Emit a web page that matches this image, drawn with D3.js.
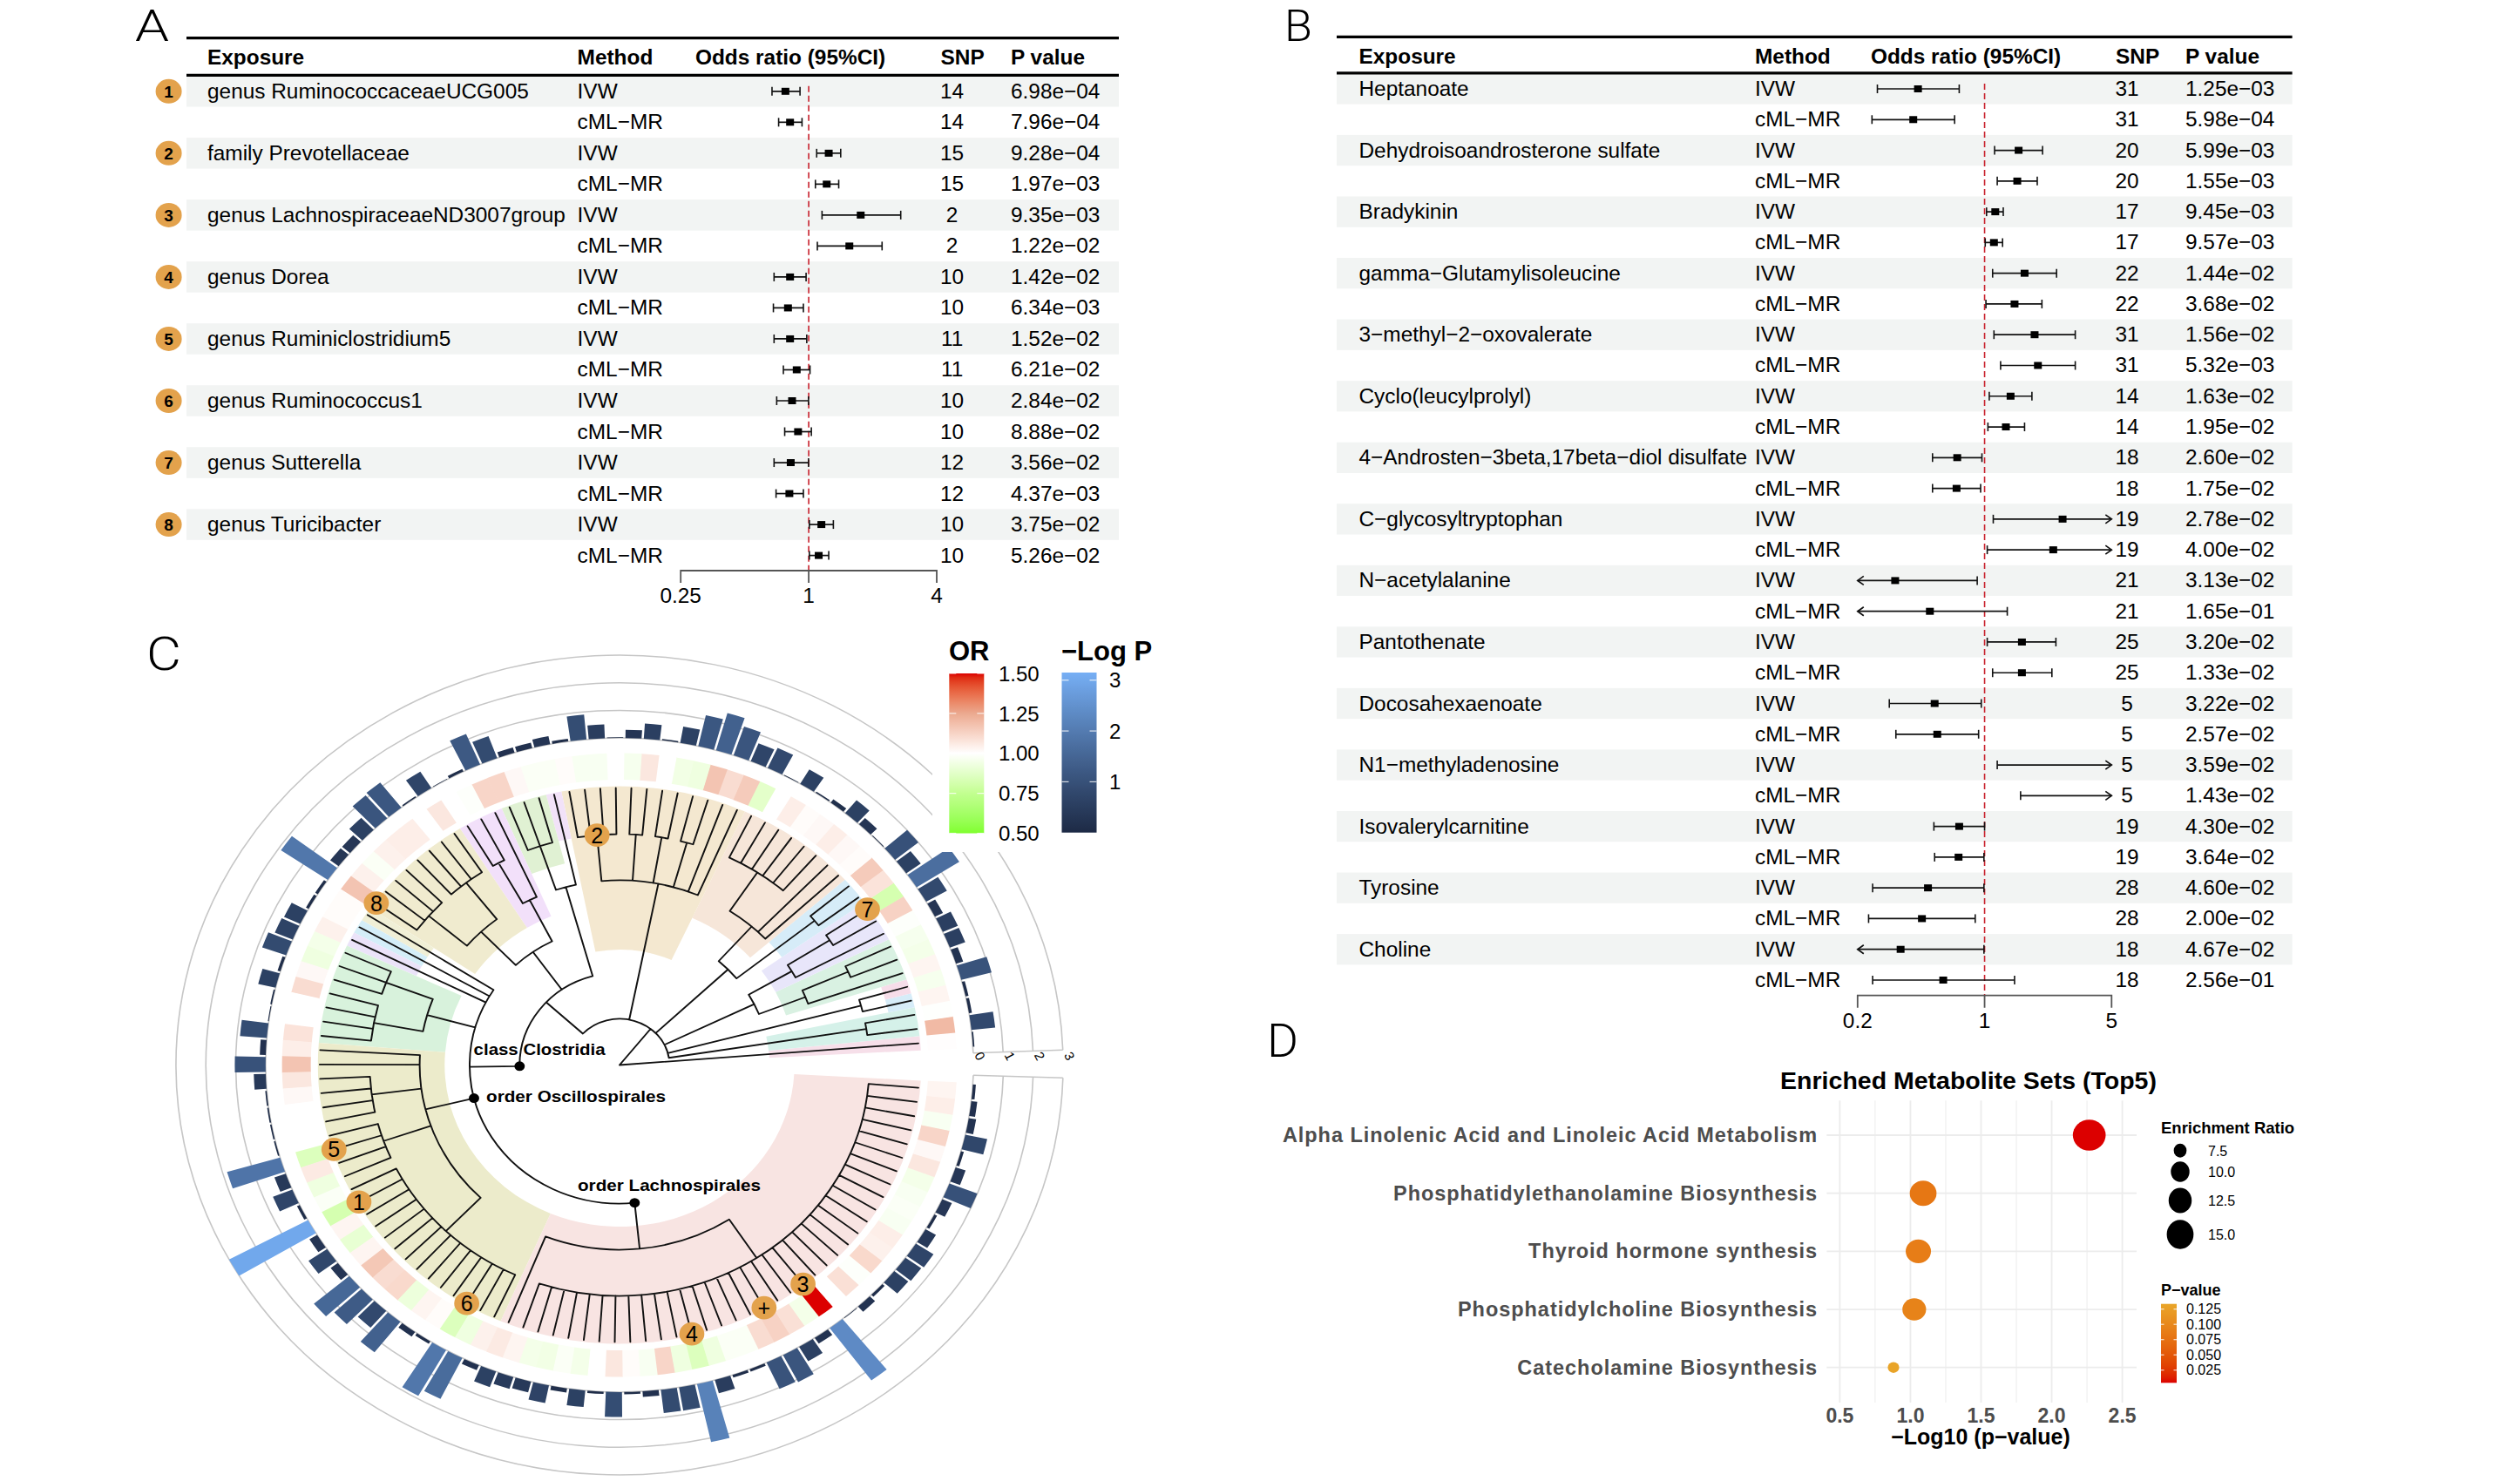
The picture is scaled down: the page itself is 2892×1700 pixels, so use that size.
<!DOCTYPE html>
<html><head><meta charset="utf-8">
<script src="https://cdn.jsdelivr.net/npm/d3@7"></script>
<style>
html,body{margin:0;padding:0;background:#fff}
svg{display:block}
text{font-family:"Liberation Sans",Arial,sans-serif;fill:#000}
</style></head><body>
<div id="chart"></div>
<script>
// ---------- Panel A data ----------
const aExposure = ["genus RuminococcaceaeUCG005","family Prevotellaceae","genus LachnospiraceaeND3007group","genus Dorea","genus Ruminiclostridium5","genus Ruminococcus1","genus Sutterella","genus Turicibacter"];
const aSnp = [14,14,15,15,2,2,10,10,11,11,10,10,12,12,10,10];
const aP = ["6.98e−04","7.96e−04","9.28e−04","1.97e−03","9.35e−03","1.22e−02","1.42e−02","6.34e−03","1.52e−02","6.21e−02","2.84e−02","8.88e−02","3.56e−02","4.37e−03","3.75e−02","5.26e−02"];
const aLow = [.672,.722,1.09,1.075,1.155,1.098,.687,.682,.687,.760,.707,.771,.687,.702,1.007,1.007];
const aMid = [.777,.817,1.242,1.215,1.756,1.553,.817,.799,.817,.878,.835,.891,.823,.811,1.147,1.114];
const aHigh = [.910,.930,1.414,1.384,2.709,2.213,.972,.944,.979,1.014,.998,1.029,.998,.944,1.306,1.242];
const aTicks = [0.25,1,4];
// ---------- Panel B data ----------
const bExposure = ["Heptanoate","Dehydroisoandrosterone sulfate","Bradykinin","gamma−Glutamylisoleucine","3−methyl−2−oxovalerate","Cyclo(leucylprolyl)","4−Androsten−3beta,17beta−diol disulfate","C−glycosyltryptophan","N−acetylalanine","Pantothenate","Docosahexaenoate","N1−methyladenosine","Isovalerylcarnitine","Tyrosine","Choline"];
const bSnp = [31,31,20,20,17,17,22,22,31,31,14,14,18,18,19,19,21,21,25,25,5,5,5,5,19,19,28,28,18,18];
const bP = ["1.25e−03","5.98e−04","5.99e−03","1.55e−03","9.45e−03","9.57e−03","1.44e−02","3.68e−02","1.56e−02","5.32e−03","1.63e−02","1.95e−02","2.60e−02","1.75e−02","2.78e−02","4.00e−02","3.13e−02","1.65e−01","3.20e−02","1.33e−02","3.22e−02","2.57e−02","3.59e−02","1.43e−02","4.30e−02","3.64e−02","4.60e−02","2.00e−02","4.67e−02","2.56e−01"];
const bLow = [.257,.240,1.135,1.174,1.025,1.008,1.107,1.017,1.126,1.225,1.061,1.043,.517,.517,1.116,1.034,.12,.1,1.034,1.107,.299,.325,1.174,1.578,.526,.531,.242,.230,.12,.242];
const bMid = [.430,.405,1.539,1.513,1.145,1.126,1.660,1.462,1.885,1.966,1.390,1.310,.707,.701,2.687,2.387,.322,.500,1.605,1.605,.531,.549,6,8,.725,.719,.488,.452,.345,.592];
const bHigh = [.725,.684,2.085,1.949,1.267,1.256,2.490,2.068,3.155,3.155,1.822,1.660,.967,.951,7,5.5,.911,1.333,2.469,2.347,.959,.927,20,30,1.0,.992,.992,.888,.992,1.462];
const bTicks = [0.2,1,5];
// ---------- Panel C data (leaves counter-clockwise from the gap) ----------
const cLogP = [.05,.8,.1,.1,1.05,.25,.55,.55,.3,.8,1.7,.6,1.0,.03,.3,.6,.15,.05,.6,.02,.8,.7,1.1,1.4,1.15,.6,.05,.55,.3,.03,.5,.9,.1,.3,.2,.2,.85,1.2,.1,.02,.7,.05,1.15,1.1,.6,.35,.35,1.9,.1,.1,.6,.65,.85,.1,.6,.05,.03,.9,.2,1.03,.4,.05,.05,.05,.05,1.85,.4,.7,.1,3.0,.3,.75,.3,1.55,1.25,.8,1.4,.2,.1,1.9,1.65,.2,.6,.45,.4,.65,.15,.6,.08,.9,.08,.2,.85,.85,2.15,.5,.1,.1,1.05,1.1,.6,.25,2.35,.02,.25,.1,.6,.65,.7,.4,.1,.35,1.0,.35,.1,.75,.25,.2,.1];
const cOR = [1.005,1.2,.995,1.03,.96,1.03,.95,.96,.99,1.13,.82,1.08,1.15,1.01,1.02,1.05,1.02,1.01,1.05,1.0,.88,1.15,1.1,1.17,.93,.94,1.0,1.07,.96,1.0,.97,.97,1.01,.98,.98,1.02,1.12,1.12,.99,1.0,1.07,1.0,1.05,1.05,1.04,.98,1.04,1.17,1.01,1.01,1.04,.95,.93,1.02,1.1,1.0,1.0,1.08,1.05,1.17,1.07,1.02,1.0,1.0,1.0,.85,1.06,.93,.98,.82,1.03,.9,1.03,1.16,1.1,1.11,.92,1.03,1.01,.85,.93,1.04,1.06,1.03,.95,.94,.98,.95,1.0,1.07,1.01,.97,1.12,.93,.85,.93,.98,.98,1.1,1.13,1.09,.95,1.5,1.0,1.09,.99,1.11,1.04,1.05,.97,.98,.97,.95,1.07,1.02,1.12,.97,1.05,1.03];
const tips = n => Array(n).fill(0);
// tree: [taxonomic level, ...children]; 0 = a tip
const cTree = [0,
  0,
  [1,
    [5,0,0],
    [5,0,0],
    [3,[4,0,[5,0,0]],[4,0,[5,0,0]]],
    [3,[5,0,0],[4,0,0,[5,...tips(6)]]],
    [4,0,0,[5,0,0],[5,0,0],[5,0,0],[5,...tips(4)]],
    [2,
      [4,0,[5,0,0,0]],
      [3,[4,0,[5,0,0]],[4,[5,...tips(4)],[5,...tips(4)]]],
      [3,0,0,0,
        [4,[5,0,0,0],[5,...tips(4)]],
        [4,0,0,[5,...tips(4)],[5,...tips(4)],[5,...tips(14)]],
        [4,0,[5,...tips(36)]]
      ]
    ]
  ]
];
const cladeKeys = ["0-0","1-2","3-3","4-4","5-7","8-10","11-12","13-20","21-32","33-33","34-36","37-39","40-47","48-48","49-49","50-50","51-57","58-81","82-118"];
const cladeColors = ["#f6dfe9","#d5f1e9","#d6ecf8","#f6dde9","#d9f1e2","#e8e6fa","#d6ecf8","#f6e6d9","#f4e8d0","#f2e2f8","#e0f1d3","#f2e0fa","#f0ebcf","#f0efd6","#d4eef8","#ebe3f9","#d8f2dc","#ecebcb","#f8e4e2"];
const nodeLabels = ["class Clostridia","order Oscillospirales","order Lachnospirales"];
const nodeLabelKeys = ["48-118","58-81","82-118"];
const markerText = ["1","2","3","4","5","6","7","8","+"];
const markerKeys = ["69-69","29-32","102-102","94-94","65-65","79-79","10-10","47-47","99-99"];
const cRingTicks = [0,1,2,3];
const orLegendTicks = [0.5,0.75,1,1.25,1.5];
const logPLegendTicks = [1,2,3];
// ---------- Panel D data ----------
const dSets = ["Alpha Linolenic Acid and Linoleic Acid Metabolism","Phosphatidylethanolamine Biosynthesis","Thyroid hormone synthesis","Phosphatidylcholine Biosynthesis","Catecholamine Biosynthesis"];
const dLogP = [2.266,1.09,1.056,1.027,0.88];
const dRatio = [16.3,12.6,11.8,11.0,6.6];
const dTicks = [0.5,1,1.5,2,2.5];
const dRatioLegend = [7.5,10,12.5,15];
const dPLegend = [0.125,0.1,0.075,0.05,0.025];

const W=2892,H=1700;
const svg=d3.select("#chart").append("svg").attr("width",W).attr("height",H).attr("viewBox",`0 0 ${W} ${H}`);
svg.append("rect").attr("width",W).attr("height",H).attr("fill","#fff");

function T(g,x,y,s,o={}){
  const t=g.append("text").attr("x",x).attr("y",y).text(s)
    .attr("font-size",o.fs||24.4).attr("text-anchor",o.anchor||"start");
  if(o.bold)t.attr("font-weight","bold");
  if(o.fill)t.style("fill",o.fill);
  if(o.len)t.attr("textLength",o.len).attr("lengthAdjust","spacingAndGlyphs");
  if(o.family)t.style("font-family",o.family);
  if(o.weight)t.attr("font-weight",o.weight);
  if(o.track)t.style("letter-spacing",o.track+"px");
  return t;
}
// panel letters
[["A",155,47,50,39],["B",1474,47,50,32],["C",168,769,54,40],["D",1454,1213,54,36]].forEach(d=>
  T(svg,d[1],d[2],d[0],{fs:d[3],family:"Roboto",weight:300,len:d[4]}));

function forest(o){
  const g=svg.append("g");
  const y=d3.scaleLinear().domain([0,o.snp.length-1]).range(o.yRange);
  const rowH=y(1)-y(0);
  const x=d3.scaleLog().base(o.base).domain(o.domain).range(o.xRange);
  d3.range(0,o.snp.length,2).forEach(i=>{
    g.append("rect").attr("x",o.left).attr("width",o.right-o.left)
      .attr("y",y(i)-rowH/2).attr("height",rowH).attr("fill","#f2f4f3");
  });
  [o.rule1,o.rule2].forEach(r=>g.append("line").attr("x1",o.left).attr("x2",o.right)
     .attr("y1",r).attr("y2",r).attr("stroke","#000").attr("stroke-width",3.2));
  const hy=o.headerY;
  T(g,o.cols[0],hy,"Exposure",{bold:1});
  T(g,o.cols[1],hy,"Method",{bold:1});
  T(g,o.cols[2],hy,"Odds ratio (95%CI)",{bold:1});
  T(g,o.cols[3],hy,"SNP",{bold:1});
  T(g,o.cols[5],hy,"P value",{bold:1});
  // reference line
  g.append("line").attr("x1",x(1)).attr("x2",x(1)).attr("y1",y(0)-6).attr("y2",o.axisY)
    .attr("stroke","#c8202c").attr("stroke-width",1.6).attr("stroke-dasharray","7,4");
  o.snp.forEach((s,i)=>{
    const yy=y(i), base=yy+8;
    if(i%2==0) T(g,o.cols[0],base,o.exposure[i/2]);
    T(g,o.cols[1],base,i%2?"cML−MR":"IVW");
    T(g,o.cols[4],base,s,{anchor:"middle"});
    T(g,o.cols[5],base,o.p[i]);
    const lo=o.low[i],hi=o.high[i],m=o.mid[i],d=o.domain;
    const x0=x(Math.max(lo,d[0])),x1=x(Math.min(hi,d[1]));
    g.append("line").attr("x1",x0).attr("x2",x1).attr("y1",yy).attr("y2",yy).attr("stroke","#111").attr("stroke-width",1.7);
    if(lo>=d[0]) g.append("line").attr("x1",x0).attr("x2",x0).attr("y1",yy-5).attr("y2",yy+5).attr("stroke","#111").attr("stroke-width",1.6);
    else g.append("path").attr("d",`M${x0+7},${yy-5}L${x0},${yy}L${x0+7},${yy+5}`).attr("fill","none").attr("stroke","#111").attr("stroke-width",1.7);
    if(hi<=d[1]) g.append("line").attr("x1",x1).attr("x2",x1).attr("y1",yy-5).attr("y2",yy+5).attr("stroke","#111").attr("stroke-width",1.6);
    else g.append("path").attr("d",`M${x1-7},${yy-5}L${x1},${yy}L${x1-7},${yy+5}`).attr("fill","none").attr("stroke","#111").attr("stroke-width",1.7);
    if(m>=d[0]&&m<=d[1]) g.append("rect").attr("x",x(m)-4.5).attr("y",yy-4).attr("width",9).attr("height",8).attr("fill","#000");
  });
  // axis
  g.append("path").attr("d",`M${x(d3.min(o.ticks))},${o.axisY+14}V${o.axisY}H${x(d3.max(o.ticks))}V${o.axisY+14}M${x(1)},${o.axisY}V${o.axisY+14}`)
   .attr("fill","none").attr("stroke","#555").attr("stroke-width",1.8);
  o.ticks.forEach(t=>T(g,x(t),o.axisY+37,t,{anchor:"middle"}));
  return {g,y};
}
const A=forest({exposure:aExposure,snp:aSnp,p:aP,low:aLow,mid:aMid,high:aHigh,ticks:aTicks,
  base:2,domain:[.25,4],xRange:[781.2,1075],yRange:[104.8,637.6],left:214,right:1284,
  rule1:43.7,rule2:86.4,headerY:74,axisY:655,cols:[238,662.6,798,1079.6,1092.6,1160]});
const B=forest({exposure:bExposure,snp:bSnp,p:bP,low:bLow,mid:bMid,high:bHigh,ticks:bTicks,
  base:5,domain:[.2,5],xRange:[2131.8,2423.3],yRange:[102,1125],left:1534,right:2630.6,
  rule1:42.3,rule2:83.8,headerY:73,axisY:1142.7,cols:[1559.5,2014,2147,2428,2441,2508]});
// A group markers
aExposure.forEach((e,i)=>{
  const yy=A.y(i*2);
  A.g.append("ellipse").attr("cx",193.6).attr("cy",yy).attr("rx",15).attr("ry",14).attr("fill","#e3a24c");
  T(A.g,193.6,yy+7,i+1,{fs:19,bold:1,anchor:"middle"});
});

// ---------- Panel C ----------
const cx=711,cy=1222.5,kx=1.082;
const C=svg.append("g");
const P=C.append("g").attr("transform",`translate(${cx},${cy}) scale(${kx},1)`);
const level=53, tipLevel=6;
const angleOf=d3.scaleLinear().domain([0,118]).range([4.5,355.3]);
const step=angleOf(1)-angleOf(0);
const rad=a=>a*Math.PI/180;
const rBar=d3.scaleLinear().domain([0,3]).range([375.4,470.5]);
const orColor=d3.scaleLinear().domain([.5,.75,1,1.25,1.5]).range(["#80ff2e","#c2ff90","#ffffff","#eba98f","#dc0000"]).interpolate(d3.interpolateLab);
const barColor=d3.scaleLinear().domain([0,3.15]).range(["#1d2a45","#76aff5"]).interpolate(d3.interpolateLab);
const arcGen=d3.arc();
const sector=(r0,r1,a0,a1)=>arcGen({innerRadius:r0,outerRadius:r1,startAngle:rad(90-a1),endAngle:rad(90-a0)});

const root=d3.hierarchy(cTree,d=>Array.isArray(d)?d.slice(1):null);
let leafI=0;
root.eachAfter(n=>{
  n.R=(Array.isArray(n.data)?n.data[0]:tipLevel)*level;
  if(!n.children){n.first=n.last=leafI;n.angle=angleOf(leafI);leafI++;}
  else{n.first=n.children[0].first;n.last=n.children[n.children.length-1].last;
       n.angle=d3.mean(n.children,c=>c.angle);}
  n.key=n.first+"-"+n.last;
});
const byKey={};root.descendants().forEach(n=>{byKey[n.key]=n;});

// clade highlight sectors
cladeKeys.forEach((k,i)=>{
  const n=byKey[k];
  const r0=(n.R+(n.parent?n.parent.R:0))/2;
  P.append("path").attr("d",sector(r0,320,angleOf(n.first)-step/2,angleOf(n.last)+step/2)).attr("fill",cladeColors[i]);
});
// heat ring
const gapFix=0.04;
cOR.forEach((v,i)=>P.append("path").attr("d",sector(327.5,358,angleOf(i)-step/2-gapFix,angleOf(i)+step/2+gapFix)).attr("fill",orColor(v)));
// rings
const ringA0=2.1,ringA1=358.2;
cRingTicks.forEach(t=>{
  const p=d3.path();p.arc(0,0,rBar(t),-rad(ringA0),-rad(ringA1),true);
  P.append("path").attr("d",p.toString()).attr("fill","none").attr("stroke","#c6c6c6").attr("stroke-width",1.5);
});
[ringA0,ringA1].forEach(a=>{
  P.append("line").attr("x1",rBar(0)*Math.cos(rad(a))).attr("y1",-rBar(0)*Math.sin(rad(a)))
   .attr("x2",rBar(3)*Math.cos(rad(a))).attr("y2",-rBar(3)*Math.sin(rad(a)))
   .attr("stroke","#c6c6c6").attr("stroke-width",1.5);
});
// bars
cLogP.forEach((v,i)=>P.append("path").attr("d",sector(rBar(0),rBar(v),angleOf(i)-step*0.44,angleOf(i)+step*0.44)).attr("fill",barColor(v)));
// tree
const treePath=d3.path();
root.descendants().forEach(n=>{
  const a=rad(n.angle),ca=Math.cos(a),sa=-Math.sin(a);
  if(n.parent){treePath.moveTo(n.parent.R*ca,n.parent.R*sa);treePath.lineTo(n.R*ca,n.R*sa);}
  if(n.children&&n.R>0){
    const a0=rad(n.children[0].angle),a1=rad(n.children[n.children.length-1].angle);
    treePath.moveTo(n.R*Math.cos(a0),-n.R*Math.sin(a0));
    treePath.arc(0,0,n.R,-a0,-a1,true);
  }
});
P.append("path").attr("d",treePath.toString()).attr("fill","none").attr("stroke","#111").attr("stroke-width",1.8).attr("stroke-linecap","round");
// node dots and labels
const labelPos=[[543.6,1211,151],[558,1265,206],[663,1367,210]];
nodeLabelKeys.forEach((k,i)=>{
  const n=byKey[k];
  const R=n.parent.R,a=rad(n.angle);
  P.append("circle").attr("cx",R*Math.cos(a)).attr("cy",-R*Math.sin(a)).attr("r",5.5).attr("fill","#000");
  T(C,labelPos[i][0],labelPos[i][1],nodeLabels[i],{fs:18.5,bold:1,len:labelPos[i][2]});
});
// markers
markerKeys.forEach((k,i)=>{
  const n=byKey[k],a=rad(n.angle);
  const X=n.R*Math.cos(a),Y=-n.R*Math.sin(a);
  P.append("circle").attr("cx",X).attr("cy",Y).attr("r",13.3).attr("fill","#e3a24c");
  T(C,cx+X*kx,cy+Y+9,markerText[i],{fs:25,anchor:"middle"});
});
// ring axis labels
cRingTicks.forEach(t=>{
  const xx=cx+rBar(t)*kx*Math.cos(rad(ringA0))+3, yy=cy-rBar(0)*Math.sin(rad(ringA0))+6;
  T(C,0,0,t,{fs:15,anchor:"middle"}).attr("transform",`translate(${xx},${yy}) rotate(62)`);
});
// legend background and legends
svg.append("rect").attr("x",1070).attr("y",730).attr("width",270).attr("height",248).attr("fill","#fff");
const defs=svg.append("defs");
function vGrad(id,scale,d0,d1){
  const g=defs.append("linearGradient").attr("id",id).attr("x1",0).attr("x2",0).attr("y1",1).attr("y2",0);
  d3.range(0,41).forEach(i=>{const t=i/40;g.append("stop").attr("offset",t).attr("stop-color",scale(d0+(d1-d0)*t));});
}
function colorbar(x,w,y0,y1,id,scale,d0,d1,ticks,fmt,labelX,fs,tickLen){
  vGrad(id,scale,d0,d1);
  const y=d3.scaleLinear().domain([d0,d1]).range([y1,y0]);
  svg.append("rect").attr("x",x).attr("y",y0).attr("width",w).attr("height",y1-y0).attr("fill",`url(#${id})`);
  ticks.forEach(t=>{
    const yy=y(t);
    svg.append("line").attr("x1",x).attr("x2",x+tickLen).attr("y1",yy).attr("y2",yy).attr("stroke","#fff").attr("stroke-opacity",.8).attr("stroke-width",1.2);
    svg.append("line").attr("x1",x+w-tickLen).attr("x2",x+w).attr("y1",yy).attr("y2",yy).attr("stroke","#fff").attr("stroke-opacity",.8).attr("stroke-width",1.2);
    T(svg,labelX,yy+fs*.36,fmt(t),{fs});
  });
}
T(svg,1089,757.5,"OR",{fs:31,bold:1});
colorbar(1089.3,40,773,956.5,"gOR",orColor,.5,1.5,orLegendTicks,d3.format(".2f"),1146,24,8);
T(svg,1218,757.5,"−Log P",{fs:31,bold:1});
colorbar(1218.5,40,772,955.7,"gLP",barColor,0,3.15,logPLegendTicks,d3.format("d"),1273,24,8);

// ---------- Panel D ----------
const D=svg.append("g");
const dx=d3.scaleLinear().domain([.5,2.5]).range([2111.4,2435.6]);
const dy=d3.scalePoint().domain(dSets).range([1303,1569.7]);
const pOf=v=>Math.pow(10,-v);
const dColor=d3.scaleLinear().domain([pOf(dLogP[0]),pOf(dLogP[4])]).range(["#dc0000","#e9a428"]).interpolate(d3.interpolateLab);
const rArea=d3.scaleLinear().domain([7.5,15]).range([64,279]);
const rOf=v=>Math.sqrt(rArea(v));
const plotL=2096.4,plotR=2452,plotT=1263.3,plotB=1610;
d3.range(.5,2.76,.25).forEach(v=>{
  const major=Math.abs(v*2-Math.round(v*2))<1e-6;
  if(dx(v)<plotR) D.append("line").attr("x1",dx(v)).attr("x2",dx(v)).attr("y1",plotT).attr("y2",plotB)
    .attr("stroke","#ececec").attr("stroke-width",major?1.8:1);
});
dSets.forEach(s=>D.append("line").attr("x1",plotL).attr("x2",plotR).attr("y1",dy(s)).attr("y2",dy(s)).attr("stroke","#ececec").attr("stroke-width",1.8));
dSets.forEach((s,i)=>{
  D.append("ellipse").attr("cx",dx(dLogP[i])).attr("cy",dy(s)).attr("rx",rOf(dRatio[i])*1.06).attr("ry",rOf(dRatio[i])).attr("fill",dColor(pOf(dLogP[i])));
  T(D,2086,dy(s)+8,s,{fs:23.5,bold:1,anchor:"end",fill:"#4d4d4d",track:.95});
});
dTicks.forEach(t=>T(D,dx(t),1633,d3.format(".1f")(t),{fs:23,bold:1,anchor:"middle",fill:"#4d4d4d"}));
T(D,2273,1658,"−Log10 (p−value)",{fs:25,bold:1,anchor:"middle"});
T(D,2259,1250,"Enriched Metabolite Sets (Top5)",{fs:28.5,bold:1,anchor:"middle"});
T(D,2480,1301,"Enrichment Ratio",{fs:18.5,bold:1});
const ratioLegY=[1320.7,1345,1378,1417];
dRatioLegend.forEach((v,i)=>{
  D.append("ellipse").attr("cx",2502).attr("cy",ratioLegY[i]).attr("rx",rOf(v)*.92).attr("ry",rOf(v)).attr("fill","#000");
  T(D,2534,ratioLegY[i]+6,d3.format(".1f")(v),{fs:16});
});
T(D,2480,1487,"P−value",{fs:18,bold:1});
// P-value colour bar
const pl=d3.scaleLinear().domain([.025,.125]).range([1572.7,1502.7]);
const pLo=pl.invert(1587.3),pHi=pl.invert(1496.7);
colorbar(2480,18,1496.7,1587.3,"gP",dColor,pLo,pHi,dPLegend,d3.format(".3f"),2509,16,3.5);
</script>
</body></html>
